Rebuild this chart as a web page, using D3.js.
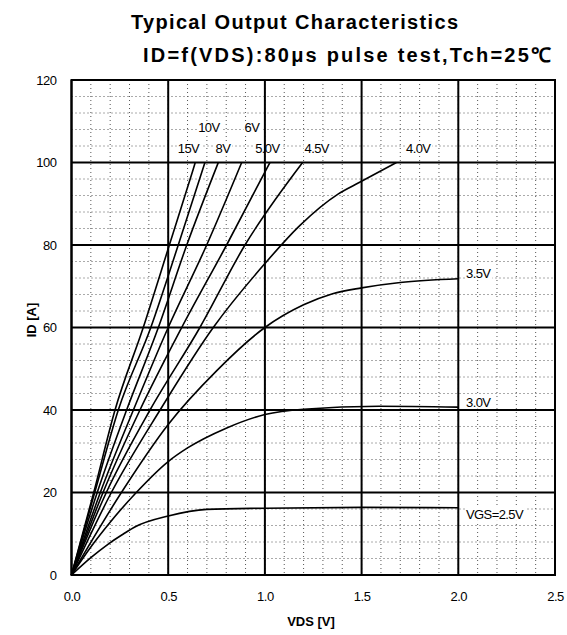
<!DOCTYPE html>
<html>
<head>
<meta charset="utf-8">
<script src="https://cdn.jsdelivr.net/npm/d3@7"></script>
<style>
  body { margin: 0; background: #fff; }
  text { font-family: "Liberation Sans", Arial, sans-serif; }
</style>
</head>
<body>
<div id="chart"></div>
<script>
// values: [VDS (V), ID (A)]
var vgs15 = [[0,0],[0.115,20],[0.225,40],[0.371,60],[0.506,80],[0.627,98],[0.64,100]]
var vgs10 = [[0,0],[0.12,20],[0.242,40],[0.41,60],[0.552,80],[0.69,100]]
var vgs8 = [[0,0],[0.133,20],[0.285,40],[0.449,60],[0.596,80],[0.759,100]]
var vgs6 = [[0,0],[0.149,20],[0.32,40],[0.5,60],[0.699,80],[0.88,100]]
var vgs5 = [[0,0],[0.163,20],[0.354,40],[0.57,60],[0.802,80],[1.026,100]]
var vgs45 = [[0,0],[0.18,20],[0.406,40],[0.664,60],[0.897,80],[1.195,100]]
var vgs4 = [[0,0],[0.206,20],[0.458,40],[0.733,60],[1.0,75.5],[1.18,84.7],[1.38,92.4],[1.49,95.2],[1.68,100]]
var vgs35 = [[0,0],[0.258,20],[0.5,36.5],[0.75,49.5],[1.0,60],[1.2,65.5],[1.35,68.2],[1.5,69.6],[1.7,70.9],[2.0,71.8]]
var vgs3 = [[0,0],[0.1,6.8],[0.2,12.8],[0.335,20],[0.5,27.5],[0.6,30.8],[0.8,35.6],[1.0,38.9],[1.2,40.2],[1.59,40.9],[2.0,40.7]]
var vgs25 = [[0,0],[0.1,4.2],[0.19,7.5],[0.27,10],[0.33,11.7],[0.5,14.3],[0.7,15.9],[1.0,16.2],[1.5,16.4],[2.0,16.3]]

var seriesData = [vgs15, vgs10, vgs8, vgs6, vgs5, vgs45, vgs4, vgs35, vgs3, vgs25]
var seriesNames = ["15V", "10V", "8V", "6V", "5.0V", "4.5V", "4.0V", "3.5V", "3.0V", "VGS=2.5V"]
// where each name sits: [VDS, ID] at the label's left baseline
var labelAnchors = [[0.55,102.4],[0.655,107.4],[0.745,102.4],[0.895,107.4],[0.95,102.4],[1.205,102.4],[1.73,102.4],[2.04,72.1],[2.04,40.8],[2.04,13.6]]

var xTicks = [0, 0.5, 1.0, 1.5, 2.0, 2.5]
var yTicks = [0, 20, 40, 60, 80, 100, 120]
var titleLines = ["Typical Output Characteristics", "ID=f(VDS):80\u03bcs pulse test,Tch=25\u2103"]

var svgWidth = 567
var svgHeight = 635
var margin = { top: 80, right: 12, bottom: 60, left: 71.5 }
var width = svgWidth - margin.left - margin.right
var height = svgHeight - margin.top - margin.bottom

var svg = d3.select("#chart").append("svg")
    .attr("width", svgWidth)
    .attr("height", svgHeight)

var chart = svg.append("g")
    .attr("transform", "translate(" + margin.left + "," + margin.top + ")")

var x = d3.scaleLinear().domain([0, 2.5]).range([0, width])
var y = d3.scaleLinear().domain([0, 120]).range([height, 0])

// minor dotted grid
var minorX = d3.range(0, 2.5001, 0.1)
var minorY = d3.range(0, 120.001, 4)
chart.append("g").selectAll("line").data(minorX)
    .enter().append("line")
    .attr("x1", function(d) { return x(d) }).attr("x2", function(d) { return x(d) })
    .attr("y1", 0).attr("y2", height)
    .attr("stroke", "#555").attr("stroke-width", 1).attr("stroke-dasharray", "1,3")
chart.append("g").selectAll("line").data(minorY)
    .enter().append("line")
    .attr("y1", function(d) { return y(d) }).attr("y2", function(d) { return y(d) })
    .attr("x1", 0).attr("x2", width)
    .attr("stroke", "#555").attr("stroke-width", 1).attr("stroke-dasharray", "1,3")

// white patches behind the curve names
var labelG = chart.append("g")

// major grid
chart.append("g").selectAll("line").data(xTicks)
    .enter().append("line")
    .attr("x1", function(d) { return x(d) }).attr("x2", function(d) { return x(d) })
    .attr("y1", 0).attr("y2", height)
    .attr("stroke", "#000").attr("stroke-width", 2)
chart.append("g").selectAll("line").data(yTicks)
    .enter().append("line")
    .attr("y1", function(d) { return y(d) }).attr("y2", function(d) { return y(d) })
    .attr("x1", 0).attr("x2", width)
    .attr("stroke", "#000").attr("stroke-width", 2)

chart.append("rect")
    .attr("width", width).attr("height", height)
    .attr("fill", "none").attr("stroke", "#000").attr("stroke-width", 2)

// curves
var line = d3.line()
    .x(function(d) { return x(d[0]) })
    .y(function(d) { return y(d[1]) })
    .curve(d3.curveMonotoneX)

chart.append("g").selectAll("path").data(seriesData)
    .enter().append("path")
    .attr("d", line)
    .attr("fill", "none")
    .attr("stroke", "#000")
    .attr("stroke-width", 1.6)

// curve names
var names = labelG.selectAll("text").data(seriesNames)
    .enter().append("text")
    .attr("x", function(d, i) { return x(labelAnchors[i][0]) })
    .attr("y", function(d, i) { return y(labelAnchors[i][1]) })
    .style("font-size", "13px")
    .style("letter-spacing", "-0.6px")
    .text(function(d) { return d })

names.each(function() {
    var b = this.getBBox()
    labelG.insert("rect", "text")
        .attr("x", b.x - 1).attr("y", b.y + 1)
        .attr("width", b.width + 2).attr("height", b.height - 2)
        .attr("fill", "#fff")
})

// axes
var xAxis = d3.axisBottom(x).tickValues(xTicks).tickFormat(d3.format(".1f")).tickSize(0).tickPadding(17)
var yAxis = d3.axisLeft(y).tickValues(yTicks).tickSize(0).tickPadding(15)

chart.append("g")
    .attr("transform", "translate(0," + height + ")")
    .call(function(g) { styleAxis(g, xAxis) })
chart.append("g")
    .call(function(g) { styleAxis(g, yAxis) })

function styleAxis(g, axis) {
    g.call(axis)
    g.select(".domain").remove()
    g.selectAll("text")
        .style("font-family", "'Liberation Sans', Arial, sans-serif")
        .style("font-size", "13px")
        .style("letter-spacing", "-0.5px")
        .attr("fill", "#000")
}

svg.append("text")
    .attr("x", 311).attr("y", 626)
    .attr("text-anchor", "middle")
    .style("font-size", "13px").style("font-weight", "bold")
    .text("VDS [V]")

svg.append("text")
    .attr("transform", "translate(36,320) rotate(-90)")
    .attr("text-anchor", "middle")
    .style("font-size", "13px").style("font-weight", "bold")
    .text("ID [A]")

svg.selectAll("text.title").data(titleLines)
    .enter().append("text")
    .attr("class", "title")
    .attr("x", function(d, i) { return i == 0 ? 131 : 143 })
    .attr("y", function(d, i) { return i == 0 ? 29 : 62 })
    .attr("textLength", function(d, i) { return i == 0 ? 327 : 408 })
    .attr("lengthAdjust", "spacing")
    .style("font-size", "20px").style("font-weight", "bold")
    .text(function(d) { return d })
</script>
</body>
</html>
